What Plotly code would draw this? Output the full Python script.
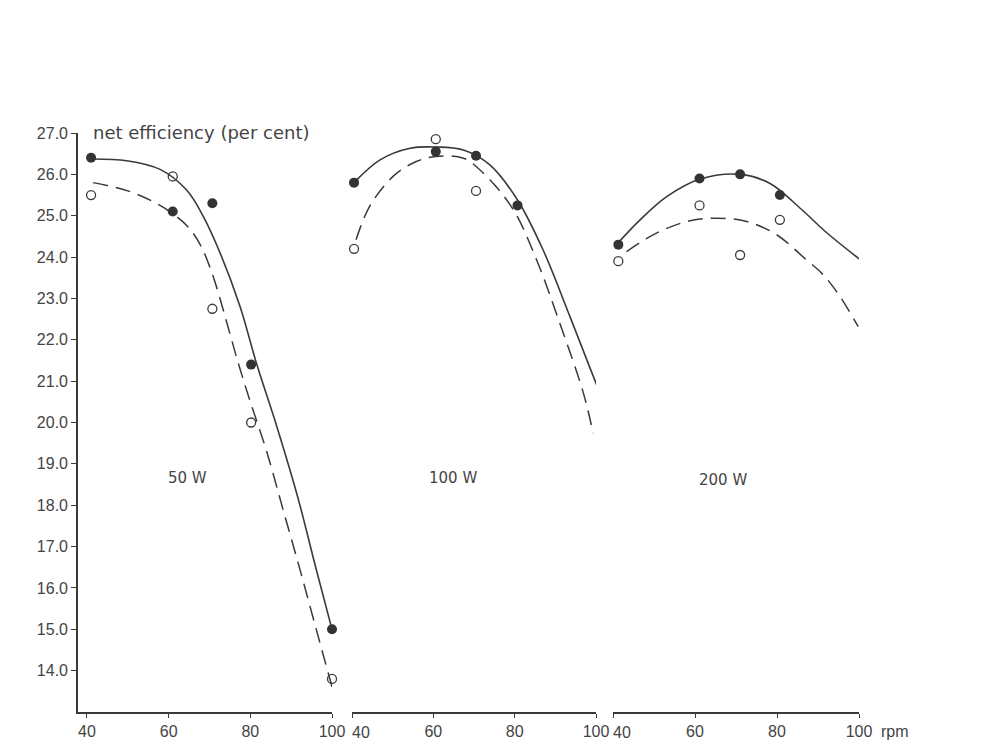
import plotly.graph_objects as go

W, H = 981, 744

# Measured points: pedalling rate (rpm) vs net efficiency (%)
# filled = solid symbols, open = open symbols
rpm_50_filled = [41, 61, 70.7, 80.2, 100]
eff_50_filled = [26.4, 25.1, 25.3, 21.4, 15.0]
rpm_50_open = [41, 61, 70.7, 80.2, 100]
eff_50_open = [25.5, 25.95, 22.75, 20.0, 13.8]

rpm_100_filled = [40.5, 60.6, 70.5, 80.7, 100.2]
eff_100_filled = [25.8, 26.55, 26.45, 25.25, 20.85]
rpm_100_open = [40.5, 60.6, 70.5, 100.2]
eff_100_open = [24.2, 26.85, 25.6, 19.45]

rpm_200_filled = [41.3, 61.1, 71.0, 80.7, 100.5]
eff_200_filled = [24.3, 25.9, 26.0, 25.5, 23.9]
rpm_200_open = [41.3, 61.1, 71.0, 80.7, 100.3]
eff_200_open = [23.9, 25.25, 24.05, 24.9, 22.65]

# Fitted curves (solid through filled, dashed through open)
fit_50_solid_x = [41, 49.7, 57.9, 64.4, 68.5, 72.6, 77.5, 81.6, 86.5, 91.6, 96.0, 100]
fit_50_solid_y = [26.37, 26.33, 26.12, 25.62, 24.98, 24.1, 22.8, 21.4, 19.9, 18.2, 16.5, 15.0]
fit_50_dash_x = [41.5, 50, 56, 61, 65, 68, 71, 74, 77, 80, 84, 88, 92, 96, 100.3]
fit_50_dash_y = [25.8, 25.6, 25.35, 25.05, 24.7, 24.25, 23.5, 22.5, 21.45, 20.5, 19.3,
                 17.9, 16.5, 15.05, 13.5]

fit_100_solid_x = [40.5, 46.9, 54.3, 60.6, 67.4, 73.9, 80.7, 87.0, 93.6, 100.2]
fit_100_solid_y = [25.8, 26.35, 26.63, 26.66, 26.59, 26.23, 25.38, 24.17, 22.56, 20.9]
fit_100_dash_x = [41.0, 44.3, 50.1, 55.8, 60.6, 67.4, 73.1, 79.7, 85.4, 91.1, 96.9, 99.3]
fit_100_dash_y = [24.42, 25.22, 25.95, 26.31, 26.43, 26.39, 25.95, 25.14, 23.93, 22.4, 20.71, 19.74]

fit_200_solid_x = [41.3, 46.6, 53.1, 61.1, 71.0, 78.3, 86.0, 92.0, 100.5]
fit_200_solid_y = [24.35, 24.9, 25.46, 25.88, 26.0, 25.78, 25.15, 24.6, 23.92]
fit_200_dash_x = [43.3, 50.6, 58.8, 65.3, 72.6, 79.9, 87.2, 91.0, 95.0, 99.8]
fit_200_dash_y = [24.13, 24.58, 24.88, 24.94, 24.86, 24.54, 23.93, 23.6, 23.1, 22.32]

y_ticks = [14, 15, 16, 17, 18, 19, 20, 21, 22, 23, 24, 25, 26, 27]
x_ticks = [40, 60, 80, 100]
panel_labels = ["50 W", "100 W", "200 W"]

INK = "#3a3a3a"
TXT = "#444444"
FONT = "Liberation Sans"

panels = [
    ("x", rpm_50_filled, eff_50_filled, rpm_50_open, eff_50_open,
     fit_50_solid_x, fit_50_solid_y, fit_50_dash_x, fit_50_dash_y),
    ("x2", rpm_100_filled, eff_100_filled, rpm_100_open, eff_100_open,
     fit_100_solid_x, fit_100_solid_y, fit_100_dash_x, fit_100_dash_y),
    ("x3", rpm_200_filled, eff_200_filled, rpm_200_open, eff_200_open,
     fit_200_solid_x, fit_200_solid_y, fit_200_dash_x, fit_200_dash_y),
]
# companion axes that carry the left-aligned "40" label of panels 2 and 3
label_axis = {"x": "x", "x2": "x4", "x3": "x5"}

fig = go.Figure()
for xa, fx, fy, ox, oy, sx, sy, dx, dy in panels:
    fig.add_trace(go.Scatter(x=sx, y=sy, xaxis=xa, yaxis="y", mode="lines",
                             line=dict(color=INK, width=1.6, shape="spline", smoothing=1.0),
                             hoverinfo="skip", showlegend=False, cliponaxis=False))
    fig.add_trace(go.Scatter(x=dx, y=dy, xaxis=xa, yaxis="y", mode="lines",
                             line=dict(color=INK, width=1.5, shape="spline", smoothing=1.0,
                                       dash="15px,8px"),
                             hoverinfo="skip", showlegend=False, cliponaxis=False))
    fig.add_trace(go.Scatter(x=fx, y=fy, xaxis=xa, yaxis="y", mode="markers",
                             marker=dict(symbol="circle", size=10, color="#333333",
                                         line=dict(width=0)),
                             showlegend=False, cliponaxis=False))
    fig.add_trace(go.Scatter(x=ox, y=oy, xaxis=label_axis[xa], yaxis="y", mode="markers",
                             marker=dict(symbol="circle-open", size=9, color=INK,
                                         line=dict(width=1.3)),
                             showlegend=False, cliponaxis=False))


def px(v):
    return v / W


def py(v):
    return 1 - v / H


def xaxis_style(blank_first):
    labels = [str(t) for t in x_ticks]
    if blank_first:
        labels[0] = ""
    return dict(
        showgrid=False, zeroline=False, showline=True, linecolor=INK, linewidth=1.6,
        ticks="outside", ticklen=4, tickwidth=1.4, tickcolor=INK,
        tickvals=x_ticks, ticktext=labels,
        tickfont=dict(family=FONT, size=16, color=TXT),
        anchor="y", fixedrange=True, automargin=False,
    )


def first_label_axis(over, domain):
    return dict(
        overlaying=over, domain=domain, range=[40, 100], anchor="y",
        showgrid=False, zeroline=False, showline=False, ticks="",
        tickvals=[40], ticktext=["40"], ticklabelposition="outside right",
        ticklabelstandoff=9,
        tickfont=dict(family=FONT, size=16, color=TXT),
        fixedrange=True, automargin=False,
    )


dom1 = [px(78), px(332)]
dom2 = [px(352), px(596)]
dom3 = [px(613), px(859)]

fig.update_layout(
    width=W, height=H,
    margin=dict(l=0, r=0, t=0, b=0, autoexpand=False),
    paper_bgcolor="white", plot_bgcolor="rgba(0,0,0,0)",
    xaxis=dict(domain=dom1, range=[37.8, 100], **xaxis_style(False)),
    xaxis2=dict(domain=dom2, range=[40, 100], **xaxis_style(True)),
    xaxis3=dict(domain=dom3, range=[40, 100], **xaxis_style(True)),
    xaxis4=first_label_axis("x2", dom2),
    xaxis5=first_label_axis("x3", dom3),
    yaxis=dict(
        domain=[py(712), py(133)], range=[13, 27], anchor="x",
        showgrid=False, zeroline=False, showline=True, linecolor=INK, linewidth=1.6,
        ticks="outside", ticklen=5, tickwidth=1.4, tickcolor=INK,
        tickvals=y_ticks, ticktext=[f"{t:.1f}" for t in y_ticks],
        tickfont=dict(family=FONT, size=16, color=TXT),
        fixedrange=True, automargin=False,
    ),
    showlegend=False,
)

annotations = [
    dict(text="net efficiency (per cent)", x=px(91), y=py(133), xanchor="left",
         yanchor="middle", showarrow=False,
         font=dict(family="DejaVu Sans", size=18, color=TXT)),
    dict(text="rpm", x=px(879), y=py(731), xanchor="left", yanchor="middle",
         showarrow=False, font=dict(family=FONT, size=16, color=TXT)),
]
for label, (lx, ly) in zip(panel_labels, [(187, 478), (453, 478), (723, 480)]):
    annotations.append(dict(text=label, x=px(lx), y=py(ly), xanchor="center",
                            yanchor="middle", showarrow=False,
                            font=dict(family="DejaVu Sans", size=15, color=TXT)))
for a in annotations:
    a.update(xref="paper", yref="paper")
fig.update_layout(annotations=annotations)

fig.write_html("out.html")
